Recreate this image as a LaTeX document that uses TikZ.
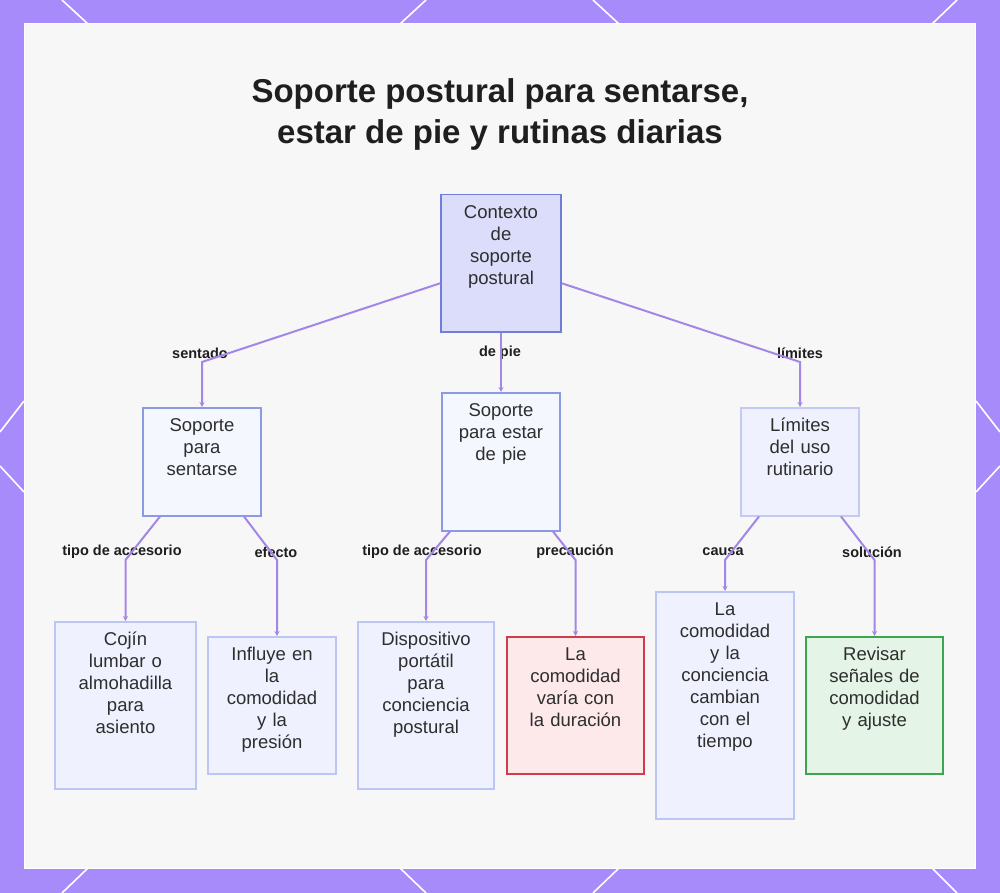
\documentclass[tikz,border=0pt]{standalone}
\usepackage{fontspec}
\setmainfont{Liberation Sans}
\usepackage{xcolor}
\usepackage{tikz}
\usetikzlibrary{arrows.meta,positioning,calc}

\definecolor{framebg}{HTML}{A78BFA}
\definecolor{panelbg}{HTML}{F7F7F7}
\definecolor{linkc}{HTML}{A486E6}
\definecolor{inktext}{HTML}{2E2E2E}
\definecolor{inklbl}{HTML}{1E1E1E}
\definecolor{rootfill}{HTML}{DCDDFB}
\definecolor{rootline}{HTML}{6F7FD9}
\definecolor{midfill}{HTML}{F5F7FF}
\definecolor{midline}{HTML}{8A9BE3}
\definecolor{limline}{HTML}{C3CBF3}
\definecolor{leaffill}{HTML}{EFF2FE}
\definecolor{leafline}{HTML}{BCC6F2}
\definecolor{warnfill}{HTML}{FDE8EA}
\definecolor{warnline}{HTML}{D23B4C}
\definecolor{okfill}{HTML}{E4F4E6}
\definecolor{okline}{HTML}{3DA54D}

% text sits at the top of every box
\newcommand{\boxtext}[2]{\parbox[c][#1][t]{\linewidth}{\centering\vspace*{8pt}\strut#2}}

\begin{document}
\begin{tikzpicture}[
  x=1pt, y=-1pt,
  block/.style={draw, line width=1.5pt, inner sep=0pt, anchor=north, text=inktext,
    font=\fontsize{18.5}{22}\selectfont},
  rootblock/.style={block, fill=rootfill, draw=rootline},
  midblock/.style={block, fill=midfill, draw=midline},
  limblock/.style={block, fill=leaffill, draw=limline},
  leafblock/.style={block, fill=leaffill, draw=leafline},
  warnblock/.style={block, fill=warnfill, draw=warnline},
  okblock/.style={block, fill=okfill, draw=okline},
  arrow/.style={-{Stealth[length=5pt,width=5pt]}, draw=linkc, line width=2pt},
  lbl/.style={font=\bfseries\fontsize{14.5}{17}\selectfont, text=inklbl, inner sep=1pt},
  edge line/.style={white, line width=1.6pt}
]
\useasboundingbox (0,0) rectangle (1000,893);
\fill[framebg] (0,0) rectangle (1000,893);
\fill[panelbg] (24,24) rectangle (975,868);
\draw[white, line width=1pt] (24,24) rectangle (975,868);

% frame diagonals
\draw[edge line] (62,0) -- (88,24);
\draw[edge line] (426,0) -- (400,24);
\draw[edge line] (593,0) -- (619,24);
\draw[edge line] (957,0) -- (932,24);
\draw[edge line] (88,868) -- (62,893);
\draw[edge line] (400,868) -- (426,893);
\draw[edge line] (619,868) -- (593,893);
\draw[edge line] (932,868) -- (957,893);
\draw[edge line] (0,432) -- (24,401);
\draw[edge line] (0,466) -- (24,492);
\draw[edge line] (1000,432) -- (976,401);
\draw[edge line] (1000,466) -- (976,492);

\node[font=\bfseries\fontsize{33}{41}\selectfont, text=inklbl, align=center] (title) at (500,114)
  {Soporte postural para sentarse,\\estar de pie y rutinas diarias};

\node[rootblock, text width=120pt] (ctx) at (501,194) {\boxtext{137pt}{Contexto\\de\\soporte\\postural}};
\node[midblock, text width=118pt] (sit) at (202,407) {\boxtext{108pt}{Soporte\\para\\sentarse}};
\node[midblock, text width=118pt] (pie) at (501,392) {\boxtext{138pt}{Soporte\\para estar\\de pie}};
\node[limblock, text width=118pt] (lim) at (800,407) {\boxtext{108pt}{Límites\\del uso\\rutinario}};

\node[leafblock, text width=141pt] (cojin) at (125.5,621) {\boxtext{167pt}{Cojín\\lumbar o\\almohadilla\\para\\asiento}};
\node[leafblock, text width=128pt] (infl) at (272,636) {\boxtext{137pt}{Influye en\\la\\comodidad\\y la\\presión}};
\node[leafblock, text width=136pt] (disp) at (426,621) {\boxtext{167pt}{Dispositivo\\portátil\\para\\conciencia\\postural}};
\node[warnblock, text width=137pt] (dur) at (575.5,636) {\boxtext{137pt}{La\\comodidad\\varía con\\la duración}};
\node[leafblock, text width=138pt] (camb) at (725,591) {\boxtext{227pt}{La\\comodidad\\y la\\conciencia\\cambian\\con el\\tiempo}};
\node[okblock, text width=137pt] (rev) at (874.5,636) {\boxtext{137pt}{Revisar\\señales de\\comodidad\\y ajuste}};

% edge labels
\node[lbl] (lsent) at (200,353) {sentado};
\node[lbl] (lpie) at (500,353) {de pie};
\node[lbl] (llim) at (800,353) {límites};
\node[lbl] (ltipo1) at (122,552) {tipo de accesorio};
\node[lbl] (lefec) at (276,552) {efecto};
\node[lbl] (ltipo2) at (422,552) {tipo de accesorio};
\node[lbl] (lprec) at (575,552) {precaución};
\node[lbl] (lcaus) at (723,552) {causa};
\node[lbl] (lsol) at (872,552) {solución};

% bends
\coordinate (k1) at (202,362);
\coordinate (k3) at (800,362);
\coordinate (k4) at (125.5,560);
\coordinate (k5) at (277,560);
\coordinate (k6) at (426,560);
\coordinate (k7) at (575.5,560);
\coordinate (k8) at (725,560);
\coordinate (k9) at (874.5,560);

\draw[arrow] ($(ctx.west)+(0,20)$) -- (k1) -- (sit.north);
\draw[arrow] (ctx.south) -- (pie.north);
\draw[arrow] ($(ctx.east)+(0,20)$) -- (k3) -- (lim.north);
\draw[arrow] ($(sit.south)+(-42,0)$) -- (k4) -- (cojin.north);
\draw[arrow] ($(sit.south)+(42,0)$) -- (k5) -- (k5 |- infl.north);
\draw[arrow] ($(pie.south)+(-51,0)$) -- (k6) -- (disp.north);
\draw[arrow] ($(pie.south)+(52,0)$) -- (k7) -- (dur.north);
\draw[arrow] ($(lim.south)+(-41,0)$) -- (k8) -- (camb.north);
\draw[arrow] ($(lim.south)+(41,0)$) -- (k9) -- (rev.north);
\end{tikzpicture}
\end{document}
